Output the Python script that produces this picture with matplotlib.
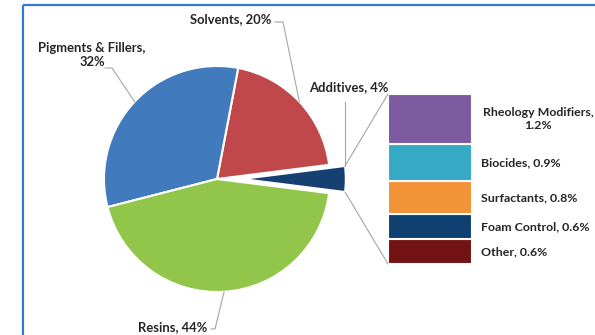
import numpy as np
import matplotlib
matplotlib.use("Agg")
import matplotlib.pyplot as plt
from matplotlib.patches import ConnectionPatch, Rectangle
from matplotlib.transforms import blended_transform_factory

plt.rcParams['font.family'] = ['Lato', 'DejaVu Sans']

# Main composition (pie)
pie_labels = ["Additives", "Solvents", "Pigments & Fillers", "Resins"]
pie_values = [4, 20, 32, 44]
pie_colors = ["#163F72", "#C0474A", "#417BBE", "#92C64A"]

# Breakdown of additives (bar, bottom to top)
sub_labels = ["Other", "Foam Control", "Surfactants", "Biocides", "Rheology Modifiers"]
sub_values = [0.6, 0.6, 0.8, 0.9, 1.2]
sub_colors = ["#721212", "#0F4170", "#F39339", "#36A9C6", "#7E5BA0"]

W, H = 595, 335
DPI = 100
TXT = "#262626"
LEADER = "#A6A6A6"
FS_PIE = 9.4
FS_BAR = 8.9

fig = plt.figure(figsize=(W / DPI, H / DPI), dpi=DPI)
fig.patch.set_facecolor("white")

# pixel-based overlay helper
def fx(px):
    return px / W

def fy(py_top):
    return (H - py_top) / H

# ---- pie axes ----
cx, cy, rad = 217, 179, 113
half = 140
ax_pie = fig.add_axes([fx(cx - half), fy(cy + half), 2 * half / W, 2 * half / H])
explode = [0.22, 0, 0, 0]
wedges, _ = ax_pie.pie(pie_values, colors=pie_colors, startangle=-7.2,
                       counterclock=True, explode=explode,
                       wedgeprops=dict(edgecolor="white", linewidth=1.5))
wedges[0].set_radius(0.92)
lim = half / rad
ax_pie.set_xlim(-lim, lim)
ax_pie.set_ylim(-lim, lim)
ax_pie.set_aspect("equal")
ax_pie.axis("off")

# ---- bar axes ----
bx0, bx1, by0, by1 = 388, 472, 94, 264
ax_bar = fig.add_axes([fx(bx0), fy(by1), (bx1 - bx0) / W, (by1 - by0) / H])
bottom = 0.0
centers = []
for v, c in zip(sub_values, sub_colors):
    ax_bar.bar(0, v, width=1.0, bottom=bottom, color=c, edgecolor="white", linewidth=1.5)
    centers.append(bottom + v / 2)
    bottom += v
total_sub = bottom
ax_bar.set_xlim(-0.5, 0.5)
ax_bar.set_ylim(0, total_sub)
ax_bar.axis("off")

# labels for bar segments
btrans = blended_transform_factory(ax_bar.transAxes, ax_bar.transData)
for lab, v, yc in zip(sub_labels, sub_values, centers):
    if lab == "Rheology Modifiers":
        ax_bar.text(1.79, yc, f"{lab},\n{v}%", transform=btrans, ha="center",
                    va="center", fontsize=FS_BAR, fontweight="bold", color=TXT,
                    linespacing=1.3, clip_on=False)
    else:
        ax_bar.text(1.107, yc, f"{lab}, {v}%", transform=btrans, ha="left",
                    va="center", fontsize=FS_BAR, fontweight="bold", color=TXT,
                    clip_on=False)

# connector lines from exploded wedge to bar
w0 = wedges[0]
wc = np.array(w0.center)
top_pt = wc + w0.r * np.array([np.cos(np.radians(w0.theta2)), np.sin(np.radians(w0.theta2))])
bot_pt = wc + w0.r * np.array([np.cos(np.radians(w0.theta1)), np.sin(np.radians(w0.theta1))])
for pa, pb in [(top_pt, (-0.5, total_sub)), (bot_pt, (-0.5, 0))]:
    con = ConnectionPatch(xyA=pa, coordsA=ax_pie.transData, xyB=pb, coordsB=ax_bar.transData,
                          color=LEADER, linewidth=0.8)
    fig.add_artist(con)

# ---- overlay for pie labels and leaders ----
ov = fig.add_axes([0, 0, 1, 1])
ov.set_xlim(0, W)
ov.set_ylim(H, 0)
ov.axis("off")
ov.patch.set_alpha(0)

def to_ov(pt):
    disp = ax_pie.transData.transform(pt)
    return ov.transData.inverted().transform(disp)

def wedge_mid(w, r=None):
    ang = np.radians((w.theta1 + w.theta2) / 2)
    rr = w.r if r is None else r
    return np.array(w.center) + rr * np.array([np.cos(ang), np.sin(ang)])

kw = dict(fontsize=FS_PIE, fontweight="bold", color=TXT)

# Solvents
ov.text(231, 19, f"{pie_labels[1]}, {pie_values[1]}%", ha="center", va="center", **kw)
p = to_ov(wedge_mid(wedges[1]))
ov.plot([275, 283, p[0]], [22, 22, p[1]], color=LEADER, lw=0.8)

# Pigments & Fillers
ov.text(92, 55, f"{pie_labels[2]},\n{pie_values[2]}%", ha="center", va="center",
        linespacing=1.3, **kw)
p = to_ov(wedge_mid(wedges[2]))
ov.plot([105, 112, p[0]], [68, 68, p[1]], color=LEADER, lw=0.8)

# Additives
ov.text(349, 87, f"{pie_labels[0]}, {pie_values[0]}%", ha="center", va="center", **kw)
p = to_ov(top_pt)
ov.plot([p[0], p[0]], [102, p[1]], color=LEADER, lw=0.8)

# Resins
ov.text(173, 327, f"{pie_labels[3]}, {pie_values[3]}%", ha="center", va="center", **kw)
p = to_ov(wedge_mid(wedges[3]))
ov.plot([211, 215, p[0]], [329, 329, p[1]], color=LEADER, lw=0.8)

# outer frame
ov.add_patch(Rectangle((23, 5), W, H, fill=False, edgecolor="#2E7BD6", linewidth=1.6,
                       clip_on=False))

fig.savefig("out.png", dpi=DPI, facecolor="white")
